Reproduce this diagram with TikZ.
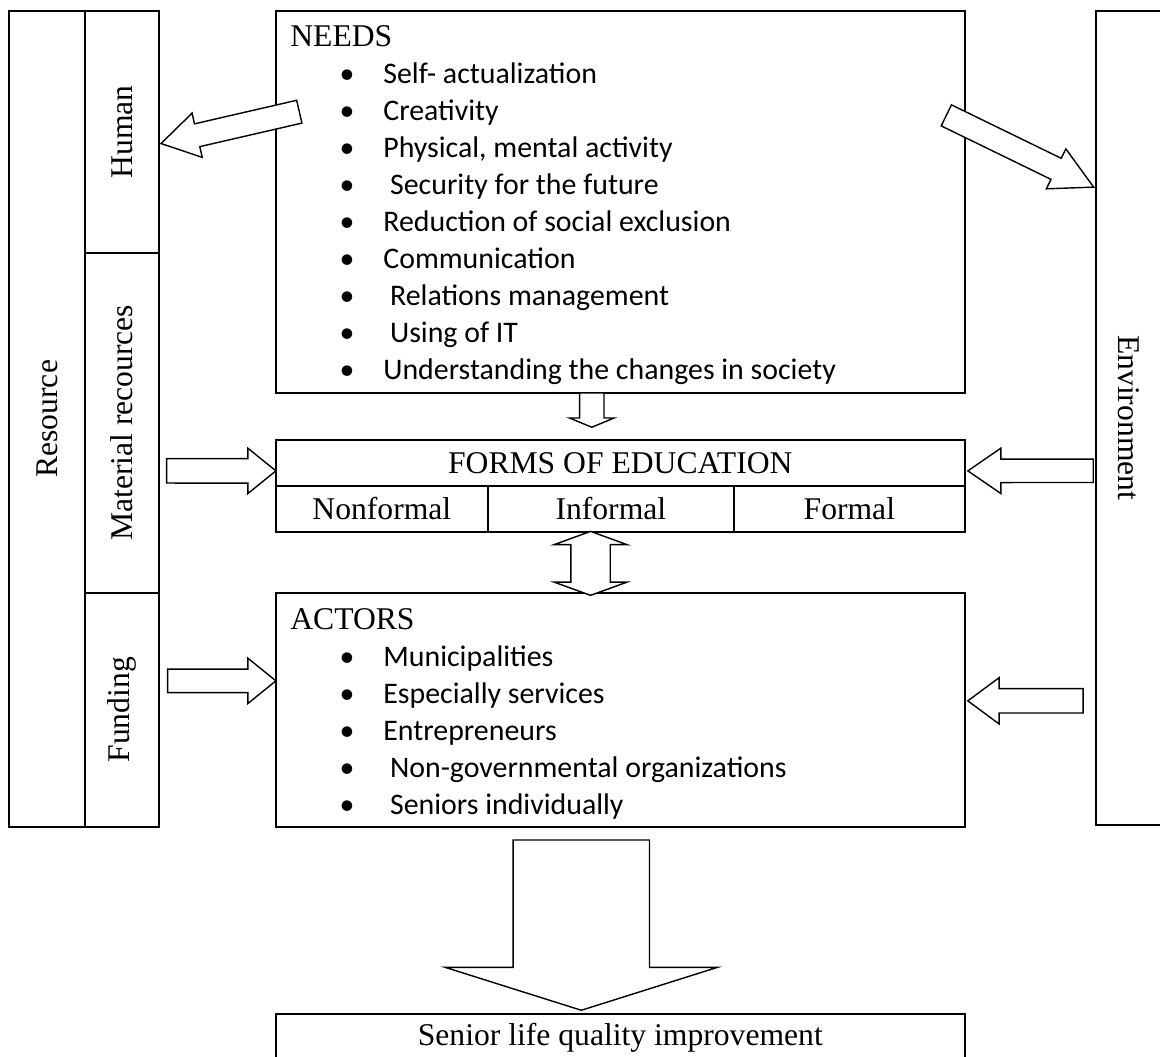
\documentclass[tikz,border=0pt]{standalone}
\usepackage{fontspec}
\setmainfont{Liberation Serif}
\newfontfamily\calibri{Carlito}
\usetikzlibrary{positioning, calc, shapes.arrows}

% block arrow: tail, tip, half shaft, head extend, tip angle
\newcommand{\fatarrow}[5]{%
  \path let \p1=($(#2)-(#1)$) in
    node[fatarr, inner ysep=#3, single arrow head extend=#4,
         single arrow tip angle=#5, minimum height={veclen(\x1,\y1)},
         rotate={atan2(\y1,\x1)}, anchor=tip] at (#2) {};}

\begin{document}
\begin{tikzpicture}[
  x=0.02cm, y=-0.02cm,
  box/.style={draw, line width=1pt, inner sep=0pt, anchor=north west},
  rot/.style={rotate=90, font=\fontsize{18}{22}\selectfont},
  title/.style={anchor=base west, inner sep=0pt, font=\fontsize{18}{22}\selectfont},
  cell/.style={box, font=\fontsize{18}{22}\selectfont},
  item/.style={anchor=base west, inner sep=0pt, font=\calibri\fontsize{17}{20}\selectfont},
  dot/.style={anchor=base, inner sep=0pt, font=\calibri\fontsize{17}{20}\selectfont},
  fatarr/.style={single arrow, draw, line width=0.8pt, fill=white,
                 inner xsep=0pt, minimum width=0pt},
]
\useasboundingbox (0,0) rectangle (1160,1057);

% ------------------- left column -------------------
\node[box, minimum width=1.52cm, minimum height=16.32cm,
      label={[rot]center:Resource}] (resource) at (8,10) {};
\node[box, minimum width=1.48cm, minimum height=4.84cm,
      label={[rot]center:Human}] (human) at (84,10) {};
\node[box, minimum width=1.48cm, minimum height=6.80cm,
      label={[rot]center:Material recources}] (material) at (84,252) {};
\node[box, minimum width=1.48cm, minimum height=4.68cm,
      label={[rot]center:Funding}] (funding) at (84,592) {};

% ------------------- right column -------------------
\node[box, minimum width=1.32cm, minimum height=16.28cm,
      label={[rot, rotate=180]center:Environment}] (env) at (1095,10) {};

% ------------------- centre -------------------
\node[box, minimum width=13.78cm, minimum height=7.64cm] (needs) at (275,10) {};
\node[title] (needshdr) at (290,47) {NEEDS};
\foreach \txt [count=\i] in {Self- actualization, Creativity,
    {Physical, mental activity}, {\ Security for the future},
    Reduction of social exclusion, Communication,
    {\ Relations management}, {\ Using of IT},
    Understanding the changes in society} {
  \node[dot] (needdot\i) at (347,47+37*\i) {\textbullet};
  \node[item] (need\i) at (383,47+37*\i) {\txt};
}

\node[cell, minimum width=13.78cm, minimum height=0.92cm] (formstitle) at (275,439) {FORMS OF EDUCATION};
\node[cell, minimum width=4.24cm, minimum height=0.92cm] (nonformal) at (275,485) {Nonformal};
\node[cell, minimum width=4.92cm, minimum height=0.92cm] (informal) at (487,485) {Informal};
\node[cell, minimum width=4.62cm, minimum height=0.92cm] (formal) at (733,485) {Formal};

\node[box, minimum width=13.78cm, minimum height=4.68cm] (actors) at (275,592) {};
\node[title] (actorshdr) at (290,629) {ACTORS};
\foreach \txt [count=\i] in {Municipalities, Especially services,
    Entrepreneurs, {\ Non-governmental organizations},
    {\ Seniors individually}} {
  \node[dot] (actdot\i) at (347,629+37*\i) {\textbullet};
  \node[item] (act\i) at (383,629+37*\i) {\txt};
}

\node[cell, minimum width=13.78cm, minimum height=0.96cm] (result) at (275,1013)
  {Senior life quality improvement};

% ------------------- block arrows -------------------
\fatarrow{$(needs.north west)+(23,102)$}{$(human.east)+(0,12)$}{0.22cm}{0.22cm}{63}
\fatarrow{$(needs.north east)+(-18,106)$}{$(env.west)+(0,-230)$}{0.22cm}{0.21cm}{56}
\fatarrow{$(material.east)+(8,48)$}{$(formstitle.west)+(2,8)$}{0.23cm}{0.21cm}{78}
\fatarrow{$(env.west)+(-3,53)$}{$(formstitle.east)+(1,8)$}{0.22cm}{0.22cm}{69}
\fatarrow{$(funding.east)+(9,-29)$}{$(actors.west)+(2,-29)$}{0.22cm}{0.22cm}{78}
\fatarrow{$(env.west)+(-13,283)$}{$(actors.east)+(1,-9)$}{0.23cm}{0.22cm}{73}
\fatarrow{$(needs.south)+(-28.5,0)$}{$(formstitle.north)+(-28.5,-11)$}{0.23cm}{0.2cm}{135}
\fatarrow{$(actors.south)+(-39,13)$}{$(result.north)+(-39,-2)$}{1.35cm}{1.36cm}{145}

\node[double arrow, draw, line width=0.8pt, fill=white, rotate=90,
      inner xsep=0pt, inner ysep=0.38cm, double arrow head extend=0.33cm,
      double arrow tip angle=140, minimum width=0pt, minimum height=1.28cm]
  (both) at ($(informal.south)!0.5!(actors.north)+(-25,1)$) {};

\end{tikzpicture}
\end{document}
